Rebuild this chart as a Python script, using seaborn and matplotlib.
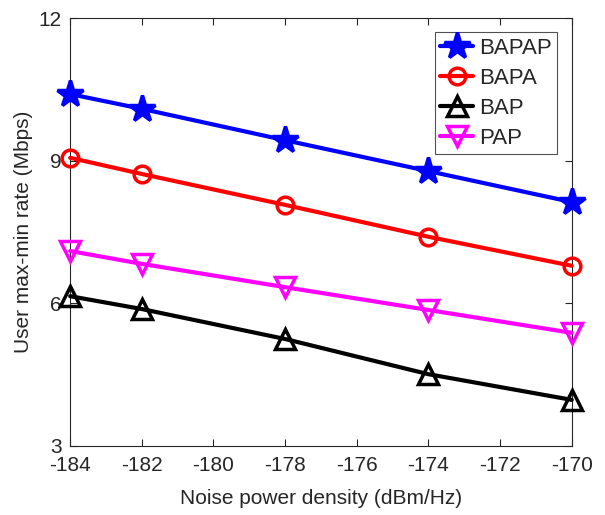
import matplotlib
matplotlib.use("Agg")
import matplotlib.pyplot as plt
import seaborn as sns
import pandas as pd

x_vals = [-184, -182, -178, -174, -170]
bapap = [10.40, 10.09, 9.43, 8.78, 8.13]
bapa = [9.06, 8.72, 8.07, 7.40, 6.79]
bap = [6.15, 5.88, 5.25, 4.51, 3.97]
pap = [7.10, 6.83, 6.34, 5.86, 5.38]
series_names = ["BAPAP", "BAPA", "BAP", "PAP"]
x_ticks = [-184, -182, -180, -178, -176, -174, -172, -170]
y_ticks = [3, 6, 9, 12]

sns.set_theme(style="white")
plt.rcParams['font.family'] = ['Liberation Sans', 'DejaVu Sans']
plt.rcParams['axes.unicode_minus'] = False

rows = []
for name, vals in zip(series_names, [bapap, bapa, bap, pap]):
    for xv, yv in zip(x_vals, vals):
        rows.append({"x": xv, "y": yv, "s": name})
df = pd.DataFrame(rows)

fig = plt.figure(figsize=(6.05, 5.15), dpi=100)
ax = fig.add_axes([0.116, 0.134, 0.829, 0.831])

styles = {
    "BAPAP": dict(color="#0000ff", marker="*", ms=20, mfc="#0000ff"),
    "BAPA": dict(color="#ff0000", marker="o", ms=12, mfc="none"),
    "BAP": dict(color="#000000", marker="^", ms=14, mfc="none"),
    "PAP": dict(color="#ff00ff", marker="v", ms=14, mfc="none"),
}
for name in series_names:
    st = styles[name]
    sub = df[df.s == name]
    sns.lineplot(data=sub, x="x", y="y", ax=ax, color=st["color"], lw=3,
                 marker=st["marker"], markersize=st["ms"],
                 markerfacecolor=st["mfc"], markeredgecolor=st["color"],
                 markeredgewidth=2.5, label=name, clip_on=False, zorder=3)

ax.set_xlim(-184, -170)
ax.set_ylim(3, 12)
ax.set_xticks(x_ticks)
ax.set_yticks(y_ticks)
ax.tick_params(direction="in", length=5, width=0.8, labelsize=15, colors="#262626",
               top=True, right=True, bottom=True, left=True)
ax.tick_params(axis="x", pad=7)
ax.tick_params(axis="y", pad=6)
for sp in ax.spines.values():
    sp.set_color("#262626")
    sp.set_linewidth(0.8)
    sp.set_visible(True)
ax.set_xlabel("Noise power density (dBm/Hz)", fontsize=15, color="#262626", labelpad=10)
ax.set_ylabel("User max-min rate (Mbps)", fontsize=15, color="#262626", labelpad=4)

leg = ax.legend(loc="upper right", fontsize=16, frameon=True, fancybox=False,
                edgecolor="#262626", handlelength=1.5, handletextpad=0.25,
                borderpad=0.25, labelspacing=0.4, borderaxespad=0.65)
leg.get_frame().set_linewidth(0.8)
leg.set_zorder(5)

fig.savefig("out.png", dpi=100)
